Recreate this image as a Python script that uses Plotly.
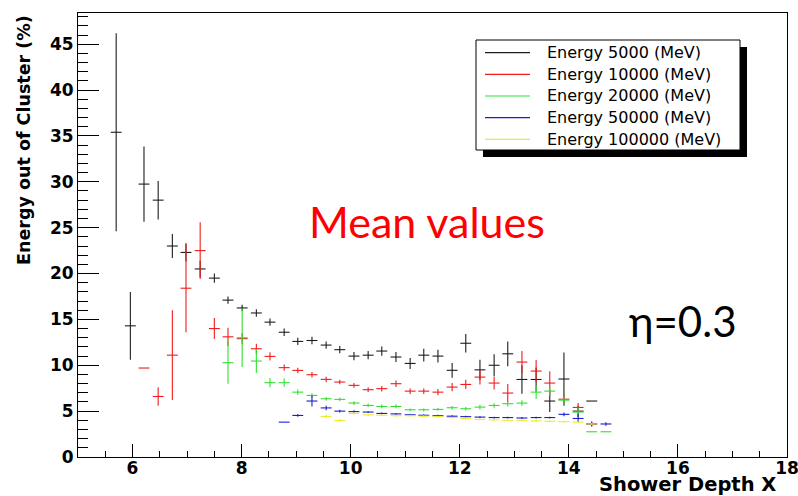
import plotly.graph_objects as go

# Shower-depth bin centres (X0)
depth_bins = [5.70, 5.96, 6.21, 6.47, 6.73, 6.98, 7.24, 7.50, 7.75, 8.01,
              8.27, 8.52, 8.78, 9.03, 9.29, 9.55, 9.80, 10.06, 10.32, 10.57,
              10.83, 11.09, 11.34, 11.60, 11.86, 12.11, 12.37, 12.63, 12.88, 13.14,
              13.40, 13.65, 13.91, 14.17, 14.42, 14.68]

energy_labels = ["Energy 5000 (MeV)", "Energy 10000 (MeV)", "Energy 20000 (MeV)",
                 "Energy 50000 (MeV)", "Energy 100000 (MeV)"]
series_colors = ["#1e1e1e", "#f01c1c", "#30e030", "#1c1cd0", "#ecec2a"]

N = None

# Mean energy leaking out of the cluster (%) and its uncertainty, per bin
mean_5000 = [35.4, 14.3, 29.75, 28.0, 23.0, 22.3, 20.5, 19.5, 17.1, 16.25,
             15.7, 14.7, 13.6, 12.6, 12.7, 12.2, 11.7, 11.0, 11.1, 11.55,
             10.9, 10.2, 11.1, 11.0, 9.45, 12.4, 9.5, 10.0, 11.25, 8.45,
             8.45, 6.1, 8.5, 5.0, 6.1, N]
err_5000 = [10.8, 3.7, 4.1, 2.1, 1.3, 1.0, 0.9, 0.5, 0.4, 0.35,
            0.4, 0.4, 0.4, 0.4, 0.4, 0.4, 0.4, 0.45, 0.45, 0.5,
            0.55, 0.6, 0.7, 0.7, 0.8, 1.0, 1.1, 1.2, 1.35, 1.55,
            1.3, 1.2, 2.9, 0.6, 0.0, 0.0]

mean_10000 = [N, N, 9.7, 6.6, 11.1, 18.4, 22.5, 14.0, 13.1, 12.9,
              11.8, 10.97, 9.74, 9.44, 8.97, 8.46, 8.17, 7.81, 7.34, 7.45,
              7.99, 7.18, 7.18, 7.07, 7.62, 7.91, 8.71, 8.06, 6.97, 10.35,
              9.37, 8.06, 6.3, 5.4, 3.6, N]
err_10000 = [0.0, 0.0, 0.0, 1.0, 4.9, 4.8, 3.1, 1.15, 1.0, 0.6,
             0.55, 0.45, 0.35, 0.3, 0.3, 0.3, 0.25, 0.25, 0.25, 0.3,
             0.35, 0.3, 0.3, 0.35, 0.45, 0.5, 0.8, 0.7, 1.0, 1.2,
             1.2, 1.3, 0.5, 0.5, 0.3, 0.0]

mean_20000 = [N, N, N, N, N, N, N, N, 10.28, 13.0,
              10.46, 8.1, 8.1, 7.07, 6.71, 6.35, 6.28, 5.88, 5.62, 5.51,
              5.51, 5.15, 5.15, 5.19, 5.37, 5.26, 5.44, 5.62, 5.81, 5.88,
              7.07, 7.18, 6.2, 4.9, 2.75, 2.75]
err_20000 = [0.0, 0.0, 0.0, 0.0, 0.0, 0.0, 0.0, 0.0, 2.3, 3.2,
             1.3, 0.5, 0.45, 0.3, 0.25, 0.2, 0.2, 0.2, 0.2, 0.2,
             0.2, 0.15, 0.15, 0.15, 0.2, 0.2, 0.25, 0.25, 0.3, 0.3,
             0.75, 0.5, 0.5, 0.5, 0.0, 0.0]

mean_50000 = [N, N, N, N, N, N, N, N, N, N,
              N, N, 3.8, 4.53, 6.1, 5.35, 5.0, 4.95, 4.9, 4.75,
              4.7, 4.6, 4.55, 4.5, 4.45, 4.4, 4.35, 4.3, 4.3, 4.25,
              4.3, 4.3, 4.65, 4.2, 3.6, 3.6]
err_50000 = [0.0, 0.0, 0.0, 0.0, 0.0, 0.0, 0.0, 0.0, 0.0, 0.0,
             0.0, 0.0, 0.0, 0.15, 0.6, 0.25, 0.15, 0.15, 0.1, 0.1,
             0.1, 0.1, 0.1, 0.1, 0.1, 0.1, 0.1, 0.1, 0.1, 0.1,
             0.1, 0.1, 0.2, 0.45, 0.2, 0.2]

mean_100000 = [N, N, N, N, N, N, N, N, N, N,
               N, N, N, N, N, 4.42, 3.98, 4.75, 4.6, 4.55,
               4.5, 4.5, 4.45, 4.4, 4.3, 4.2, 4.1, 4.05, 4.0, 4.0,
               3.95, 3.9, 3.85, 3.8, 3.6, N]
err_100000 = [0.0, 0.0, 0.0, 0.0, 0.0, 0.0, 0.0, 0.0, 0.0, 0.0,
              0.0, 0.0, 0.0, 0.0, 0.0, 0.2, 0.15, 0.15, 0.1, 0.1,
              0.1, 0.1, 0.1, 0.1, 0.1, 0.1, 0.1, 0.1, 0.1, 0.1,
              0.1, 0.1, 0.1, 0.1, 0.1, 0.0]

bin_half_width = 0.1

means = [mean_5000, mean_10000, mean_20000, mean_50000, mean_100000]
errors = [err_5000, err_10000, err_20000, err_50000, err_100000]

fig = go.Figure()
for label, color, ys, es in zip(energy_labels, series_colors, means, errors):
    fig.add_trace(go.Scatter(
        x=depth_bins, y=ys, name=label, mode="markers",
        marker=dict(size=0, opacity=0, color=color),
        error_x=dict(type="constant", value=bin_half_width, width=0,
                     thickness=1.1, color=color),
        error_y=dict(type="data", array=es, symmetric=True, width=0,
                     thickness=1.1, color=color),
        showlegend=False,
    ))

# Figure geometry (pixels)
W, H = 798, 496
ML, MR, MT, MB = 78, 11, 13, 39
PW, PH = W - ML - MR, H - MT - MB


def fx(px):
    return (px - ML) / PW


def fy(py):
    return (H - MB - py) / PH


bold_font = dict(family="DejaVu Sans", size=17, color="black", weight="bold")

fig.update_layout(
    width=W, height=H,
    margin=dict(l=ML, r=MR, t=MT, b=MB, autoexpand=False),
    plot_bgcolor="white", paper_bgcolor="white",
    showlegend=False,
    xaxis=dict(
        range=[5, 18], tick0=0, dtick=2,
        ticks="inside", ticklen=13, tickwidth=1, tickcolor="black",
        showline=True, linecolor="black", linewidth=1, mirror=True,
        showgrid=False, zeroline=False, tickfont=bold_font,
        automargin=False, ticklabeloverflow="allow", ticklabelstandoff=-4,
        minor=dict(dtick=0.5, tick0=0, ticks="inside", ticklen=6,
                   tickwidth=1, tickcolor="black", showgrid=False),
    ),
    yaxis=dict(
        range=[0, 48.4], tick0=0, dtick=5,
        ticks="inside", ticklen=21, tickwidth=1, tickcolor="black",
        showline=True, linecolor="black", linewidth=1, mirror=True,
        showgrid=False, zeroline=False, tickfont=bold_font,
        automargin=False,
        minor=dict(dtick=1, tick0=0, ticks="inside", ticklen=10,
                   tickwidth=1, tickcolor="black", showgrid=False),
    ),
)

# Axis titles
fig.add_annotation(xref="paper", yref="paper", x=fx(777), y=fy(497),
                   xanchor="right", yanchor="bottom", showarrow=False,
                   text="Shower Depth X", borderpad=0,
                   font=dict(family="DejaVu Sans", size=19.5, color="black", weight="bold"))
fig.add_annotation(xref="paper", yref="paper", x=fx(24), y=fy(13),
                   xanchor="center", yanchor="top", showarrow=False, textangle=-90,
                   text="Energy out of Cluster (%)",
                   font=dict(family="DejaVu Sans", size=17.5, color="black", weight="bold"))

# Slide-style labels
fig.add_annotation(xref="paper", yref="paper", x=fx(427), y=fy(221),
                   xanchor="center", yanchor="middle", showarrow=False,
                   text="Mean values",
                   font=dict(family="Lato, Open Sans", size=43, color="#ff0000"))
fig.add_annotation(xref="paper", yref="paper", x=fx(683), y=fy(321),
                   xanchor="center", yanchor="middle", showarrow=False,
                   text="η=0.3",
                   font=dict(family="Lato, Open Sans", size=42, color="black"))

# Legend box with drop shadow
box_l, box_t, box_r, box_b = 476, 40, 740, 150
shadow = 7
fig.add_shape(type="rect", xref="paper", yref="paper",
              x0=fx(box_l + shadow), x1=fx(box_r + shadow),
              y0=fy(box_t + shadow), y1=fy(box_b + shadow),
              fillcolor="black", line=dict(width=0), layer="above")
fig.add_shape(type="rect", xref="paper", yref="paper",
              x0=fx(box_l), x1=fx(box_r), y0=fy(box_t), y1=fy(box_b),
              fillcolor="white", line=dict(color="black", width=1), layer="above")

row_y = [52.7, 74.3, 96.0, 117.7, 139.3]
for label, color, ry in zip(energy_labels, series_colors, row_y):
    fig.add_shape(type="line", xref="paper", yref="paper",
                  x0=fx(485), x1=fx(530), y0=fy(ry), y1=fy(ry),
                  line=dict(color=color, width=1.2), layer="above")
    fig.add_annotation(xref="paper", yref="paper", x=fx(545), y=fy(ry),
                       xanchor="left", yanchor="middle", showarrow=False,
                       text=label,
                       font=dict(family="DejaVu Sans", size=16, color="black"))

fig.write_html("out.html")
